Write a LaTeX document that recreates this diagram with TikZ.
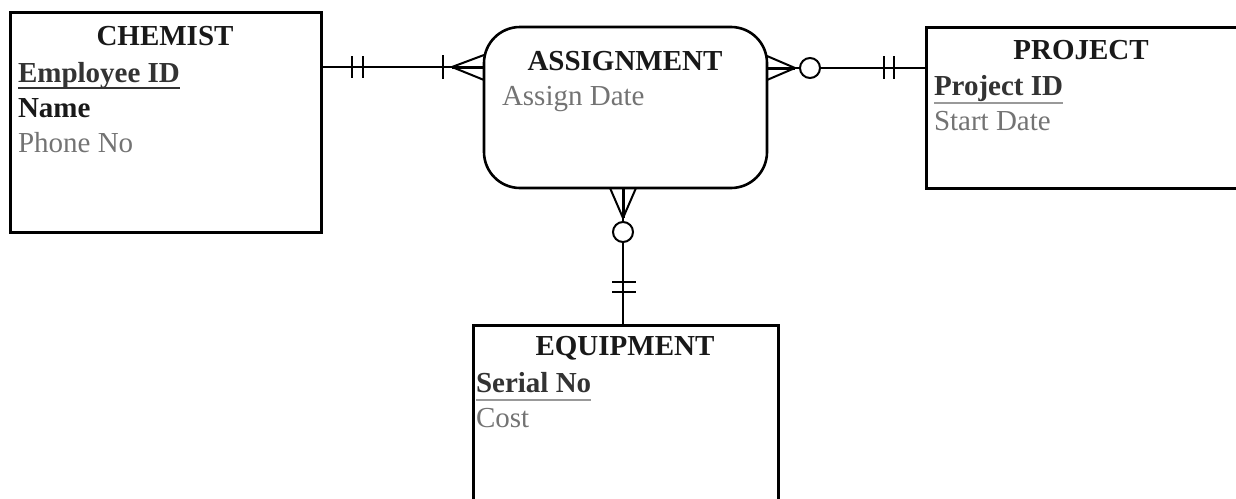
\documentclass[tikz,border=0pt]{standalone}
\usepackage{fontspec}
\setmainfont{Liberation Serif}
\begin{document}
\begin{tikzpicture}[x=1pt,y=-1pt,
  entity/.style={draw,line width=3pt,rectangle,inner sep=0pt,outer sep=0pt},
  relbox/.style={draw,line width=2.6pt,rectangle,rounded corners=36pt,inner sep=0pt,outer sep=0pt},
  txt/.style={inner sep=0pt,outer sep=0pt,font=\fontsize{29}{36}\selectfont},
  ttl/.style={txt,anchor=base,font=\fontsize{29}{36}\selectfont\bfseries,text=black!90},
  pk/.style={txt,anchor=base west,font=\fontsize{29}{36}\selectfont\bfseries,text=black!80},
  att/.style={txt,anchor=base west,text=black!55},
  conn/.style={line width=2pt},
  bar/.style={line width=2.8pt},
  ul/.style={line width=2.4pt}]
\useasboundingbox (0,0) rectangle (1236,498);
% boxes
\node[entity,minimum width=311pt,minimum height=220pt] (chem) at (165.5,122) {};
\node[relbox,minimum width=283pt,minimum height=161pt] (asg) at (625.5,107.5) {};
\node[entity,minimum width=312pt,minimum height=161pt] (proj) at (1082,107.5) {};
\node[entity,minimum width=305pt,minimum height=177pt] (equip) at (625.5,413.5) {};
% CHEMIST text
\node[ttl] (chemT) at (165,45) {CHEMIST};
\node[pk] (eid) at (18,82) {Employee ID};
\draw[ul,black!80] ([yshift=-6pt]eid.base west) -- ([yshift=-6pt]eid.base east);
\node[pk,text=black!90] (ename) at (18,117) {Name};
\node[att] (phone) at (18,152) {Phone No};
% ASSIGNMENT text
\node[ttl] (asgT) at (625,70) {ASSIGNMENT};
\node[att] (adate) at (502,105) {Assign Date};
% PROJECT text
\node[ttl] (projT) at (1081,59) {PROJECT};
\node[pk] (pid) at (934,95) {Project ID};
\draw[ul,black!40] ([yshift=-8pt]pid.base west) -- ([yshift=-8pt]pid.base east);
\node[att] (sdate) at (934,130) {Start Date};
% EQUIPMENT text
\node[ttl] (eqT) at (625,355) {EQUIPMENT};
\node[pk] (sno) at (476,392) {Serial No};
\draw[ul,black!40] ([yshift=-8pt]sno.base west) -- ([yshift=-8pt]sno.base east);
\node[att] (cost) at (476,427) {Cost};
% CHEMIST -- ASSIGNMENT
\draw[conn] (chem.east |- 0,67) coordinate (c1) -- (asg.west |- 0,67) coordinate (a1);
\draw[bar] (352,56) -- (352,78) (363,56) -- (363,78);
\draw[bar] (443,55) -- (443,79);
\draw[conn] (452,67) -- (a1 |- 0,55) (452,67) -- (a1 |- 0,80);
\draw[line width=3pt] (452,67) -- (a1);
% ASSIGNMENT -- PROJECT
\node[draw,circle,line width=2pt,minimum size=20pt,inner sep=0pt] (o1) at (810,68) {};
\draw[conn] (asg.east |- 0,68) coordinate (a2) -- (o1.west);
\draw[line width=3pt] (a2) -- (795,68);
\draw[conn] (795,68) -- (a2 |- 0,56) (795,68) -- (a2 |- 0,80);
\draw[conn] (o1.east) -- (proj.west |- 0,68);
\draw[bar] (884,56) -- (884,79) (894,56) -- (894,79);
% ASSIGNMENT -- EQUIPMENT
\node[draw,circle,line width=2pt,minimum size=20pt,inner sep=0pt] (o2) at (623,232) {};
\draw[conn] (asg.south -| 623,0) coordinate (a3) -- (o2.north);
\draw[line width=3pt] (a3) -- (623,218);
\draw[conn] (623,218) -- (a3 -| 610,0) (623,218) -- (a3 -| 636,0);
\draw[conn] (o2.south) -- (equip.north -| 623,0);
\draw[bar] (612,282) -- (636,282) (612,292) -- (636,292);
\end{tikzpicture}
\end{document}
